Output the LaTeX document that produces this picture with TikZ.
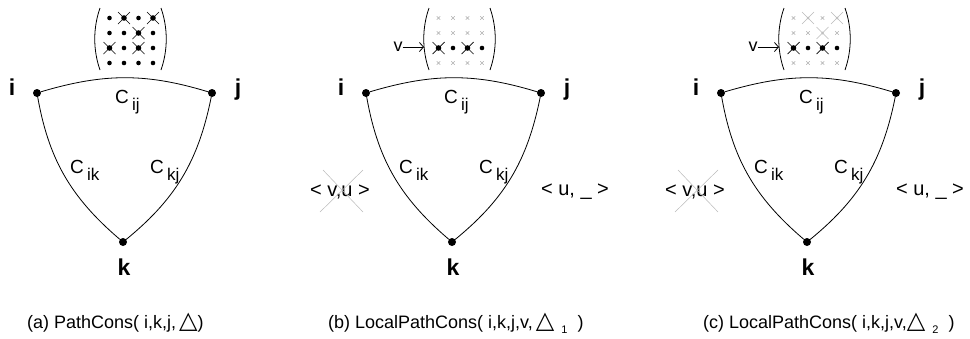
\documentclass[tikz,border=0pt]{standalone}
\usepackage{fontspec}
\setmainfont{Liberation Sans}
\newfontfamily\dejavu{DejaVu Sans}
\usetikzlibrary{arrows.meta}
\newcommand\tri{{\dejavu\fontsize{24}{24}\selectfont △}}
\newcommand\capsub[1]{\hspace{7pt}\raisebox{-5pt}{\fontsize{11}{11}\selectfont #1}\hspace{10pt}}
\newcommand\csub[1]{\,\raisebox{-7pt}{\fontsize{17}{17}\selectfont #1}}
\newcommand\mrow[5]{%
  \path (109.5,-3-15*#1) pic{#2} (124,-3-15*#1) pic{#3}
        (138.5,-3-15*#1) pic{#4} (153,-3-15*#1) pic{#5};}
\newcommand\parens{%
  \draw[paren] (100,-8) .. controls (93,-28) and (93,-50) .. (100,-70);
  \draw[paren] (161,-8) .. controls (168,-28) and (168,-50) .. (161,-70);}
\newcommand\trianglepart{%
  \node[vdot] (i) at (37,-93) {};
  \node[vdot] (j) at (212,-93) {};
  \node[vdot] (k) at (123,-242) {};
  \node[vlabel, anchor=base] (li) at (12,-95) {i};
  \node[vlabel, anchor=base] (lj) at (238,-95) {j};
  \node[vlabel, anchor=base] (lk) at (124,-275) {k};
  \draw[edge] (i) to[bend left=17] (j);
  \draw[edge] (j) to[bend left=20] (k);
  \draw[edge] (k) to[bend left=20] (i);
  \node[clabel, anchor=base west] (cij) at (115,-103) {C\csub{ij}};
  \node[clabel, anchor=base west] (cik) at (70,-173) {C\csub{ik}};
  \node[clabel, anchor=base west] (ckj) at (150,-173) {C\csub{kj}};}
% extra labels of panels (b) and (c), in panel (a) coordinates
\newcommand\localpart{%
  \node[vtxt] (v) at (69,-47) {v};
  \coordinate (vend) at (95,-47);
  \draw[varrow] (v) -- (vend);
  \node[txt] (vu) at (11,-192) {< v,u >};
  \coordinate (s1) at (-6,-170); \coordinate (s2) at (34,-212);
  \coordinate (s3) at (34,-170); \coordinate (s4) at (-9,-212);
  \draw[strike] (s1) -- (s2) (s3) -- (s4);
  \node[txt] (u) at (246,-192) {< u, \_ >};}
\begin{document}
\begin{tikzpicture}[x=1pt,y=1pt,
  vdot/.style={circle,fill=black,inner sep=0pt,minimum size=8pt},
  edge/.style={line width=0.8pt},
  paren/.style={line width=0.8pt},
  vlabel/.style={font=\fontsize{23}{23}\selectfont\bfseries, inner sep=0pt},
  clabel/.style={font=\fontsize{19}{19}\selectfont, inner sep=0pt},
  txt/.style={font=\fontsize{20}{20}\selectfont, inner sep=0pt},
  vtxt/.style={font=\fontsize{18}{18}\selectfont, inner sep=0pt},
  captext/.style={font=\fontsize{18}{18}\selectfont, inner sep=0pt},
  strike/.style={gray!55, line width=0.5pt},
  varrow/.style={line width=0.8pt, -{Straight Barb[length=4pt,width=9pt]}},
  bdot/.pic={\fill (0,0) circle (2.3);},
  bx/.pic={\draw[line width=0.7pt] (-6,-6)--(6,6) (-6,6)--(6,-6); \fill (0,0) circle (2.8);},
  gdot/.pic={\draw[gray!60,line width=0.4pt] (-1.8,-1.8)--(1.8,1.8) (-1.8,1.8)--(1.8,-1.8); \fill[gray!50] (0,0) circle (1.2);},
  gx/.pic={\draw[gray!55,line width=0.6pt] (-6,-6)--(6,6) (-6,6)--(6,-6); \fill[gray!50] (0,0) circle (1.5);}]
\useasboundingbox (0,0) rectangle (970,-338);

% ---------- panel (a)
\begin{scope}[name prefix=a-]
  \trianglepart
  \parens
  \mrow1{bdot}{bx}{bdot}{bx}
  \mrow2{bdot}{bdot}{bx}{bdot}
  \mrow3{bx}{bdot}{bx}{bdot}
  \mrow4{bdot}{bdot}{bdot}{bdot}
\end{scope}
\node[captext, anchor=base west] (capa) at (27,-328) {(a) PathCons( i,k,j,\hspace{3pt}\tri)};

% ---------- panel (b)
\begin{scope}[xshift=329pt, name prefix=b-]
  \trianglepart
  \localpart
  \parens
  \mrow1{gdot}{gdot}{gdot}{gdot}
  \mrow2{gdot}{gdot}{gdot}{gdot}
  \mrow3{bx}{bdot}{bx}{bdot}
  \mrow4{gdot}{gdot}{gdot}{gdot}
\end{scope}
\node[captext, anchor=base west] (capb) at (328,-328) {(b) LocalPathCons( i,k,j,v,\hspace{3pt}\tri\capsub{1})};

% ---------- panel (c)
\begin{scope}[xshift=684pt, name prefix=c-]
  \trianglepart
  \localpart
  \parens
  \mrow1{gdot}{gx}{gdot}{gx}
  \mrow2{gdot}{gdot}{gx}{gdot}
  \mrow3{bx}{bdot}{bx}{bdot}
  \mrow4{gdot}{gdot}{gdot}{gdot}
\end{scope}
\node[captext, anchor=base west] (capc) at (703,-328) {(c) LocalPathCons( i,k,j,v,\tri\capsub{2})};
\end{tikzpicture}
\end{document}
